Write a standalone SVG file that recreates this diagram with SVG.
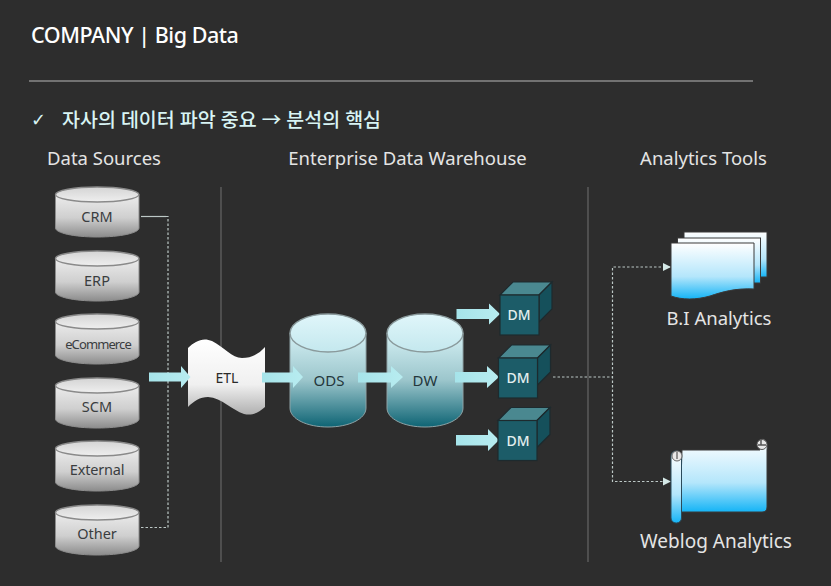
<svg xmlns="http://www.w3.org/2000/svg" width="831" height="586" viewBox="0 0 831 586">
<style>
text{font-family:"Noto Sans","Noto Sans CJK KR",sans-serif}
.h{font-size:18.5px;fill:#e4e4e4;text-anchor:middle}
.ds{font-size:14.5px;fill:#3a3d3f;text-anchor:middle}
.c{font-size:15px;fill:#24373c;text-anchor:middle}
.dm{font-size:14px;font-weight:500;fill:#e2eeee;text-anchor:middle}
.div{stroke:#666;stroke-width:1.2;fill:none}
.dot{stroke:#bcc8c6;stroke-width:1.2;stroke-dasharray:2.5 2;fill:none}
.arr{fill:url(#arrG)}
.cyl{fill:url(#grayG);stroke:#8d8d8d;stroke-width:1}
.cylT{fill:url(#grayT);stroke:#8a8a8a;stroke-width:1.4}
.tb{fill:url(#tealG);stroke:#8fa3a6;stroke-width:1}
.tt{fill:url(#tealT);stroke:#8a9a9c;stroke-width:1.4}
.f{fill:#1c5c68;stroke:#1d2a2e;stroke-width:1.2}
.s{fill:#15505b;stroke:#1d2a2e;stroke-width:1.2}
.t{fill:#4a8890;stroke:#1d2a2e;stroke-width:1.2}
.doc{stroke:#3a3a3a;stroke-width:1}
</style>
<defs>
<linearGradient id="grayG" x1="0" y1="0" x2="0" y2="1"><stop offset="0" stop-color="#ececec"/><stop offset="0.55" stop-color="#cfcfcf"/><stop offset="1" stop-color="#8c8c8c"/></linearGradient>
<linearGradient id="grayT" x1="0" y1="0" x2="0" y2="1"><stop offset="0" stop-color="#d4d4d4"/><stop offset="1" stop-color="#efefef"/></linearGradient>
<linearGradient id="tealG" x1="0" y1="0" x2="0" y2="1"><stop offset="0" stop-color="#d4f0f4"/><stop offset="0.5" stop-color="#9cc6cc"/><stop offset="1" stop-color="#0e6474"/></linearGradient>
<linearGradient id="tealT" x1="0" y1="0" x2="0" y2="1"><stop offset="0" stop-color="#e0f6fa"/><stop offset="1" stop-color="#c4e8ee"/></linearGradient>
<linearGradient id="etlG" x1="0" y1="0" x2="0" y2="1"><stop offset="0" stop-color="#ffffff"/><stop offset="0.6" stop-color="#f0f0f0"/><stop offset="1" stop-color="#b0b0b0"/></linearGradient>
<linearGradient id="blueG" x1="0" y1="0" x2="0" y2="1"><stop offset="0" stop-color="#ffffff"/><stop offset="0.6" stop-color="#b4e6fb"/><stop offset="1" stop-color="#14b4f6"/></linearGradient>
<linearGradient id="arrG" x1="0" y1="0" x2="1" y2="0"><stop offset="0" stop-color="#a6e4ea"/><stop offset="1" stop-color="#b8ecf0"/></linearGradient>
<g id="ds"><path class="cyl" d="M55.5,7.5V41C55.5,46 74,50 97.2,50S139,46 139,41V7.5Z"/><ellipse class="cylT" cx="97.2" cy="7.5" rx="41.7" ry="7.5"/></g>
<g id="tc"><path class="tb" d="M0,19V94C0,105 17,113 38,113S76,105 76,94V19Z"/><ellipse class="tt" cx="38" cy="19" rx="38" ry="19"/></g>
<g id="cube"><path class="t" d="M0,13L13,0H52L39,13Z"/><path class="s" d="M39,13L52,0V27L39,40Z"/><rect class="f" x="0" y="13" width="39" height="40"/></g>
</defs>
<rect width="831" height="586" fill="#2d2d2d"/>
<g id="header">
<text x="31" y="43" font-size="21.5" font-weight="500" fill="#ffffff" letter-spacing="-0.45">COMPANY | Big Data</text>
<line x1="29" y1="81" x2="753" y2="81" stroke="#8a8a8a" stroke-width="1.5"/>
<text x="31" y="126" font-size="18" fill="#d8f4f4" style="font-family:'DejaVu Sans',sans-serif">✓</text>
<text x="62" y="126.500" font-size="19.500" font-weight="500" fill="#d8f4f4">자사의 데이터 파악 중요 → 분석의 핵심</text>
<text class="h" x="104" y="165">Data Sources</text>
<text class="h" x="407.500" y="165">Enterprise Data Warehouse</text>
<text class="h" x="703.500" y="165">Analytics Tools</text>
<line class="div" x1="221" y1="187" x2="221" y2="562"/>
<line class="div" x1="588" y1="187" x2="588" y2="562"/>
</g>
<g id="connectors">
<path class="dot" style="stroke-dasharray:none" d="M141,216.500H166"/>
<path class="dot" d="M166,216.500H168V527.500H141"/>
<path class="dot" d="M553,377H612.500"/>
<path class="dot" d="M670,267H612.500V481.500H670"/>
<path d="M663,263L671,267L663,271Z" fill="#d4e8e6"/>
<path d="M663,477.500L671,481.500L663,485.500Z" fill="#d4e8e6"/>
</g>
<g id="node-crm"><use href="#ds" y="187"/><text class="ds" x="97" y="222">CRM</text></g>
<g id="node-erp"><use href="#ds" y="251"/><text class="ds" x="97" y="286">ERP</text></g>
<g id="node-ecommerce"><use href="#ds" y="314"/><text class="ds" x="98" y="349" style="font-size:13px;letter-spacing:-.9px">eCommerce</text></g>
<g id="node-scm"><use href="#ds" y="378"/><text class="ds" x="97" y="412">SCM</text></g>
<g id="node-external"><use href="#ds" y="441"/><text class="ds" x="97" y="475" style="letter-spacing:-.2px">External</text></g>
<g id="node-other"><use href="#ds" y="505"/><text class="ds" x="97" y="539">Other</text></g>
<g id="node-ods"><use href="#tc" x="290" y="314"/><text class="c" x="329" y="386">ODS</text></g>
<g id="node-dw"><use href="#tc" x="387" y="314"/><text class="c" x="425" y="386">DW</text></g>
<g id="node-etl"><path d="M188,348C195,341 203,337 212,341C224,347 232,358 242,358C251,358 259,354 265,347V407C258,413 252,416 244,414C232,410 222,398 208,397C200,397 194,401 188,407Z" fill="url(#etlG)"/><text class="c" x="227" y="383" style="fill:#2a2a2a;font-size:14px">ETL</text></g>
<g id="arrows">
<path class="arr" d="M149,372.500H181V366L190.500,377L181,388V381.500H149Z"/>
<path class="arr" d="M262,372.500H293V366L303,377L293,388V382.500H262Z"/>
<path class="arr" d="M358,372.500H391V366L403,377L391,388V382.500H358Z"/>
<path class="arr" d="M455,372H487V366L499,377L487,388V382.500H455Z"/>
<path class="arr" d="M456.500,309H489V303.500L500,314L489,324.500V319H456.500Z"/>
<path class="arr" d="M456,435H488V429L499,440L488,451V445.500H456Z"/>
</g>
<g id="node-dm1"><use href="#cube" x="500" y="282"/><text class="dm" x="519" y="320">DM</text></g>
<g id="node-dm2"><use href="#cube" x="498.500" y="345"/><text class="dm" x="518" y="383">DM</text></g>
<g id="node-dm3"><use href="#cube" x="498" y="407.500"/><text class="dm" x="518" y="446">DM</text></g>
<g id="node-bi">
<rect class="doc" x="684" y="232" width="83" height="45" fill="url(#blueG)"/>
<rect class="doc" x="677.500" y="238" width="83" height="45" fill="url(#blueG)"/>
<path class="doc" d="M671,243H754V289C735,288 722,292 710,296C696,300 682,300 671,296Z" fill="url(#blueG)"/>
<text x="719" y="325" class="h">B.I Analytics</text>
</g>
<g id="node-weblog">
<path d="M682,450H760C758,446 759,440 762,439C766,439 768,443 767,450V507Q767,512 762,512H680Z" fill="url(#blueG)" stroke="#3a3a3a"/>
<circle cx="762" cy="444.500" r="5" fill="#e8e8e8" stroke="#555"/>
<path d="M758,445H766M761,440V445" stroke="#555" stroke-width="1.500" fill="none"/>
<rect x="671" y="451" width="10.500" height="72" rx="5" fill="url(#blueG)" stroke="#2a4a5a"/>
<circle cx="677" cy="456" r="5" fill="#e8e8e8" stroke="#666"/>
<path d="M677,452V459" stroke="#555" stroke-width="1.200" fill="none"/>
<text x="716" y="548" class="h" style="font-size:19px">Weblog Analytics</text>
</g>
</svg>
